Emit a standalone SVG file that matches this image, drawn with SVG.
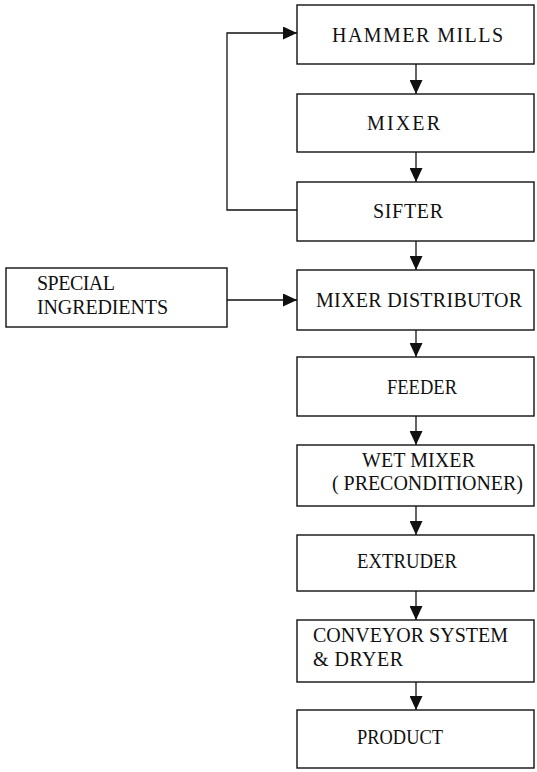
<svg xmlns="http://www.w3.org/2000/svg" width="537" height="772" viewBox="0 0 537 772">
<style>
.box{fill:#fff;stroke:#111;stroke-width:1.4}
.lbl{font-family:"Liberation Serif","Times New Roman",serif;font-size:20px;fill:#111}
.cn{fill:none;stroke:#111;stroke-width:1.3}
</style>
<defs>
<marker id="ah" markerUnits="userSpaceOnUse" markerWidth="14" markerHeight="13" refX="14" refY="6.5" orient="auto">
<path d="M0,0 L14,6.5 L0,13 Z" fill="#111"/>
</marker>
</defs>
<rect width="537" height="772" fill="#fff"/>
<g id="connectors">
<path class="cn" d="M416,64 V94" marker-end="url(#ah)"/>
<path class="cn" d="M416,152 V182" marker-end="url(#ah)"/>
<path class="cn" d="M416,241 V270" marker-end="url(#ah)"/>
<path class="cn" d="M416,330 V357" marker-end="url(#ah)"/>
<path class="cn" d="M416,416 V445" marker-end="url(#ah)"/>
<path class="cn" d="M416,506 V535" marker-end="url(#ah)"/>
<path class="cn" d="M416,591 V620" marker-end="url(#ah)"/>
<path class="cn" d="M416,682 V710" marker-end="url(#ah)"/>
<path class="cn" d="M297,210 H227 V33 H297" marker-end="url(#ah)"/>
<path class="cn" d="M227,300 H297" marker-end="url(#ah)"/>
</g>
<g id="hammer-mills">
<rect class="box" x="297" y="5" width="237" height="59"/>
<text class="lbl" x="332" y="42" textLength="171" lengthAdjust="spacing">HAMMER MILLS</text>
</g>
<g id="mixer">
<rect class="box" x="297" y="94" width="237" height="58"/>
<text class="lbl" x="367" y="130" textLength="73" lengthAdjust="spacing">MIXER</text>
</g>
<g id="sifter">
<rect class="box" x="297" y="182" width="237" height="59"/>
<text class="lbl" x="373" y="218" textLength="70" lengthAdjust="spacing">SIFTER</text>
</g>
<g id="special-ingredients">
<rect class="box" x="6" y="268" width="221" height="59"/>
<text class="lbl" x="37" y="290" textLength="78" lengthAdjust="spacing">SPECIAL</text>
<text class="lbl" x="37" y="314" textLength="131" lengthAdjust="spacing">INGREDIENTS</text>
</g>
<g id="mixer-distributor">
<rect class="box" x="297" y="270" width="237" height="60"/>
<text class="lbl" x="316" y="307" textLength="206" lengthAdjust="spacing">MIXER DISTRIBUTOR</text>
</g>
<g id="feeder">
<rect class="box" x="297" y="357" width="237" height="59"/>
<text class="lbl" x="387" y="394" textLength="70" lengthAdjust="spacingAndGlyphs">FEEDER</text>
</g>
<g id="wet-mixer">
<rect class="box" x="297" y="445" width="237" height="61"/>
<text class="lbl" x="362" y="467" textLength="113" lengthAdjust="spacing">WET MIXER</text>
<text class="lbl" x="332" y="490" textLength="191" lengthAdjust="spacing">( PRECONDITIONER)</text>
</g>
<g id="extruder">
<rect class="box" x="297" y="535" width="237" height="56"/>
<text class="lbl" x="357" y="568" textLength="100" lengthAdjust="spacingAndGlyphs">EXTRUDER</text>
</g>
<g id="conveyor">
<rect class="box" x="297" y="620" width="237" height="62"/>
<text class="lbl" x="313" y="642" textLength="195" lengthAdjust="spacing">CONVEYOR SYSTEM</text>
<text class="lbl" x="313" y="666" textLength="90" lengthAdjust="spacing">&amp; DRYER</text>
</g>
<g id="product">
<rect class="box" x="297" y="710" width="237" height="58"/>
<text class="lbl" x="357" y="744" textLength="86" lengthAdjust="spacingAndGlyphs">PRODUCT</text>
</g>
</svg>
